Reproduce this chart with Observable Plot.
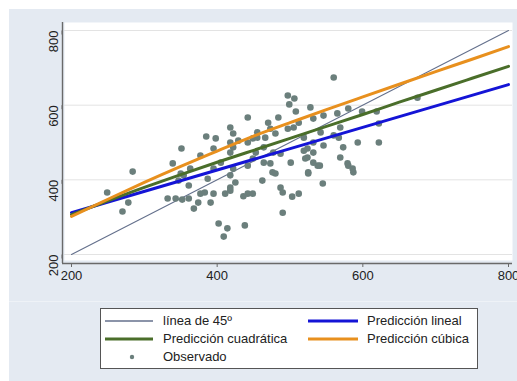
<!DOCTYPE html>
<html><head><meta charset="utf-8">
<script src="https://cdn.jsdelivr.net/npm/d3@7"></script>
<script src="https://cdn.jsdelivr.net/npm/@observablehq/plot@0.6"></script>
<style>
html,body{margin:0;padding:0;background:#fff;width:517px;height:381px;overflow:hidden;}
#wrap{position:absolute;left:9px;top:9px;width:508px;height:372px;background:#e4eaf2;font-family:"Liberation Sans",Arial,sans-serif;}
#chart{position:absolute;left:0;top:0;}
#sep{position:absolute;left:0;top:292px;width:508px;height:1px;background:#eef2f7;}
#legend{position:absolute;left:91px;top:299px;width:376px;height:59px;background:#fff;border:1px solid #555;}
.lt{position:absolute;font-size:13px;color:#222;line-height:18px;white-space:nowrap;}
.sw{position:absolute;}
</style>
</head><body>
<div id="wrap"><div id="chart"></div><div id="sep"></div><div id="legend"></div></div>
<script>
// ---- data ----
const xTicks = [200, 400, 600, 800];
const yTicks = [200, 400, 600, 800];

const obsX = [249,270,278,284,339,351,350,347,332,343,352,361,368,374,391,395,402,414,409,438,442,436,449,411,418,425,462,476,480,487,490,490,503,512,464,473,377,361,387,354,363,377,395,418,405,395,422,418,383,418,
442,418,422,398,385,470,484,455,473,466,497,505,512,532,546,565,580,569,560,542,532,546,524,573,593,569,579,587,545,525,538,524,501,487,477,464,453,449,442,422,429,442,449,455,497,506,499,508,528,560,599,619,622,622,567,519,532,519,521,532,541,525,580,586,418,480,675];
const obsY = [366,315,339,422,444,484,417,398,350,350,347,350,323,339,339,363,283,270,248,278,363,356,363,363,379,393,398,420,417,379,366,312,355,363,446,444,363,385,403,412,430,465,484,473,446,430,430,412,366,371,
567,540,524,511,516,553,567,527,537,513,537,540,553,564,572,578,591,540,519,527,500,492,484,487,500,460,444,420,390,417,438,460,446,470,473,487,473,457,438,487,505,500,511,513,626,618,602,583,594,674,583,583,551,500,513,513,473,478,457,446,438,420,438,430,500,524,620];

const refX = [200, 800];          // línea de 45º
const refY = [200, 800];
const linX = [200, 800];          // Predicción lineal
const linY = [312, 655];
const fitX = [200,250,300,350,400,450,500,550,600,650,700,750,800];
const quadY = [307,344,380,414,447,479,511,543,575,608,640,672,704];   // Predicción cuadrática
const cubY  = [302,348,393,436,477,517,553,588,622,656,690,723,757];   // Predicción cúbica

const legendLabels = ["línea de 45º", "Predicción lineal", "Predicción cuadrática", "Predicción cúbica", "Observado"];
const colors = {ref:"#64708c", lin:"#1414d6", quad:"#4a6e2a", cub:"#e8901e", obs:"#6b7f7c"};

// ---- build ----
const obs = obsX.map((x,i)=>({x, y:obsY[i]}));
const ref = refX.map((x,i)=>({x, y:refY[i]}));
const lin = linX.map((x,i)=>({x, y:linY[i]}));
const quad = fitX.map((x,i)=>({x, y:quadY[i]}));
const cub = fitX.map((x,i)=>({x, y:cubY[i]}));

const chart = Plot.plot({
  width: 508, height: 293,
  marginLeft: 62, marginRight: 9, marginTop: 21, marginBottom: 48,
  x: {domain: [xTicks[0], xTicks[xTicks.length-1]]},
  y: {domain: [yTicks[0], yTicks[yTicks.length-1]]},
  style: {background: "transparent", fontFamily: '"Liberation Sans", Arial, sans-serif', fontSize: "13px", color: "#222"},
  marks: [
    Plot.frame({fill: "white", stroke: null, insetLeft: -7, insetRight: -4, insetTop: -8, insetBottom: -6}),
    Plot.ruleY(yTicks, {stroke: "#e3e3e3", strokeWidth: 1, insetLeft: -7, insetRight: -4}),
    Plot.ruleX([xTicks[0]], {dx: -9, insetTop: -8, insetBottom: -9, stroke: "#6a6a6a", strokeWidth: 1.4}),
    Plot.ruleY([yTicks[0]], {dy: 9, insetLeft: -9, insetRight: -4, stroke: "#6a6a6a", strokeWidth: 1.4}),
    Plot.axisY({ticks: yTicks, tickSize: 4, tickPadding: 5, dx: -9, rotate: -90, label: null, fontSize: 13, stroke: "#6a6a6a"}),
    Plot.axisX({ticks: xTicks, tickSize: 4, tickPadding: 3, dy: 9, label: null, fontSize: 13, stroke: "#6a6a6a"}),
    Plot.line(ref, {x: "x", y: "y", stroke: colors.ref, strokeWidth: 1.1}),
    Plot.dot(obs, {x: "x", y: "y", r: 3.3, fill: colors.obs, stroke: null}),
    Plot.line(lin, {x: "x", y: "y", stroke: colors.lin, strokeWidth: 3}),
    Plot.line(quad, {x: "x", y: "y", stroke: colors.quad, strokeWidth: 3, curve: "natural"}),
    Plot.line(cub, {x: "x", y: "y", stroke: colors.cub, strokeWidth: 3, curve: "natural"})
  ]
});
document.getElementById("chart").appendChild(chart);

// ---- legend ----
const leg = document.getElementById("legend");
const items = [
  {label: legendLabels[0], color: colors.ref, w: 1.5, col: 0, row: 0},
  {label: legendLabels[1], color: colors.lin, w: 3, col: 1, row: 0},
  {label: legendLabels[2], color: colors.quad, w: 3, col: 0, row: 1},
  {label: legendLabels[3], color: colors.cub, w: 3, col: 1, row: 1},
  {label: legendLabels[4], color: colors.obs, dot: true, col: 0, row: 2}
];
const colSw = [4, 207], colSwW = [48, 50], colTx = [62, 266];
items.forEach(it => {
  const cy = 12 + it.row * 18;
  const s = document.createElementNS("http://www.w3.org/2000/svg", "svg");
  s.setAttribute("class", "sw");
  s.setAttribute("width", colSwW[it.col]); s.setAttribute("height", 10);
  s.style.left = colSw[it.col] + "px"; s.style.top = (cy - 5) + "px";
  if (it.dot) {
    const c = document.createElementNS("http://www.w3.org/2000/svg", "circle");
    c.setAttribute("cx", colSwW[it.col]/2 + 3); c.setAttribute("cy", 5); c.setAttribute("r", 2.2);
    c.setAttribute("fill", it.color); s.appendChild(c);
  } else {
    const l = document.createElementNS("http://www.w3.org/2000/svg", "line");
    l.setAttribute("x1", 0); l.setAttribute("x2", colSwW[it.col]); l.setAttribute("y1", 5); l.setAttribute("y2", 5);
    l.setAttribute("stroke", it.color); l.setAttribute("stroke-width", it.w); s.appendChild(l);
  }
  leg.appendChild(s);
  const t = document.createElement("div");
  t.className = "lt"; t.textContent = it.label;
  t.style.left = colTx[it.col] + "px"; t.style.top = (cy - 9) + "px";
  leg.appendChild(t);
});
</script>
</body></html>
